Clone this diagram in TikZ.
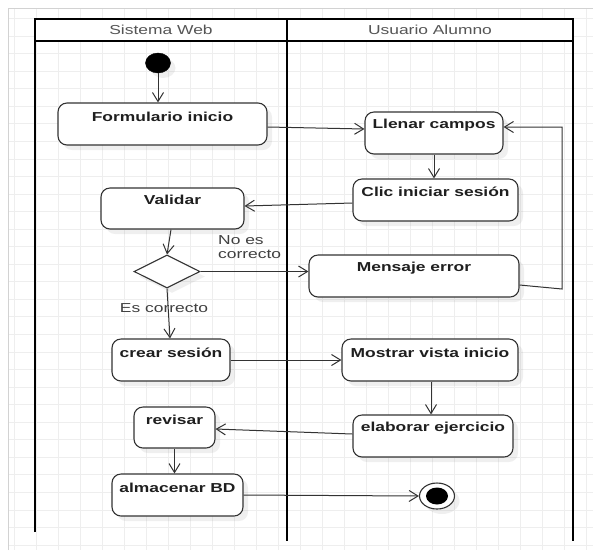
\documentclass[tikz,border=0pt]{standalone}
\usepackage{fontspec}
\setmainfont[FakeStretch=1.34]{Liberation Sans}
\usetikzlibrary{arrows.meta,shapes.geometric,shadows}

\definecolor{gridc}{HTML}{EEEEEE}
\definecolor{framec}{HTML}{D2D2D2}
\definecolor{linec}{HTML}{333333}
\definecolor{headc}{HTML}{555555}
\definecolor{labc}{HTML}{404040}

\begin{document}
\begin{tikzpicture}[x=1pt,y=-1pt,
  soft/.style={drop shadow={shadow xshift=5pt,shadow yshift=-5pt,opacity=0.12}},
  act/.style={draw=linec,line width=1.1pt,rounded corners=9pt,fill=white,
    inner sep=0pt,soft},
  acttext/.style={font=\fontsize{13}{15}\selectfont\bfseries,text=black!88,inner sep=0pt},
  headtext/.style={font=\fontsize{13}{15}\selectfont,text=headc,inner sep=0pt},
  edgetext/.style={font=\fontsize{13}{14}\selectfont,text=labc,inner sep=0pt,align=left},
  flow/.style={draw=linec,line width=1pt,-{Straight Barb[length=9pt,width=11pt,line width=1pt]}},
  lane/.style={line width=2.8pt,black}
]
\useasboundingbox (0,0) rectangle (593,550);

% background grid
\fill[white] (0,0) rectangle (593,550);
\foreach \k in {0,...,26} \draw[gridc,line width=0.8pt] ({14+22*\k},8) -- ({14+22*\k},550);
\foreach \k in {0,...,30} \draw[gridc,line width=0.8pt] (8,{18.5+17.55*\k}) -- (593,{18.5+17.55*\k});
\draw[framec,line width=0.8pt] (8,550) -- (8,8) -- (593,8);

% swimlanes
\fill[white] (35,19) rectangle (573,41);
\draw[lane] (35,532) -- (35,19) -- (573,19) -- (573,541);
\draw[lane] (35,41) -- (573,41);
\draw[lane] (287,19) -- (287,541);
\node[headtext] (h1) at (161,30) {Sistema Web};
\node[headtext] (h2) at (430,30) {Usuario Alumno};

% start and end markers
\node[ellipse,fill=black,draw=black,minimum width=25pt,minimum height=20pt,inner sep=0pt,soft] (start) at (158,63) {};
\node[ellipse,fill=white,draw=linec,line width=1.1pt,minimum width=35pt,minimum height=26pt,inner sep=0pt,soft] (end) at (437,496) {};
\node[ellipse,fill=black,minimum width=22pt,minimum height=17pt,inner sep=0pt] (endin) at (end.center) {};

% activities
\node[act,minimum width=209pt,minimum height=42pt] (fi) at (162.5,124) {};
\node[acttext] (fit) at (162.5,117) {Formulario inicio};
\node[act,minimum width=138pt,minimum height=42pt] (lc) at (434,133) {};
\node[acttext] (lct) at (434,125) {Llenar campos};
\node[act,minimum width=165pt,minimum height=42pt] (ci) at (435.5,200) {};
\node[acttext] (cit) at (435.5,192) {Clic iniciar sesión};
\node[act,minimum width=143pt,minimum height=41pt] (va) at (172.5,208.5) {};
\node[acttext] (vat) at (172.5,200) {Validar};
\node[diamond,aspect=2,draw=linec,line width=1.1pt,fill=white,inner sep=0pt,
  minimum width=66pt,minimum height=33pt,soft] (dm) at (167,271.5) {};
\node[act,minimum width=210pt,minimum height=42pt] (me) at (414,276) {};
\node[acttext] (met) at (414,268) {Mensaje error};
\node[act,minimum width=118pt,minimum height=42pt] (cs) at (171,360) {};
\node[acttext] (cst) at (171,353) {crear sesión};
\node[act,minimum width=176pt,minimum height=42pt] (mv) at (430,360) {};
\node[acttext] (mvt) at (430,353) {Mostrar vista inicio};
\node[act,minimum width=160pt,minimum height=42pt] (ee) at (433,436) {};
\node[acttext] (eet) at (433,428) {elaborar ejercicio};
\node[act,minimum width=81pt,minimum height=41pt] (rv) at (174.5,427.5) {};
\node[acttext] (rvt) at (174.5,420) {revisar};
\node[act,minimum width=131pt,minimum height=42pt] (ab) at (177.5,495) {};
\node[acttext] (abt) at (177.5,488) {almacenar BD};

% control flow
\draw[flow] (start) -- (start |- fi.north);
\draw[flow] (fi.east |- 0,127) -- (lc.west |- 0,129);
\draw[flow] (lc.south) -- (lc.south |- ci.north);
\draw[flow] (ci.west |- 0,203) -- (va.east |- 0,206);
\draw[flow] (va.south -| 171,0) -- (dm.north);
\draw[flow] (dm.east) -- (me.west |- dm.east);
\node[edgetext,anchor=west] (no) at (218,247) {No es\\correcto};
\draw[flow] (me.east |- 0,285) -- (562,289) -- (562,127) -- (lc.east |- 0,127);
\draw[flow] (dm.south) -- (cs.north -| 170,0);
\node[edgetext] (yes) at (164,308) {Es correcto};
\draw[flow] (cs.east) -- (mv.west);
\draw[flow] (mv.south -| 431,0) -- (ee.north -| 431,0);
\draw[flow] (ee.west |- 0,434) -- (rv.east |- 0,429);
\draw[flow] (rv.south) -- (ab.north -| rv.south);
\draw[flow] (ab.east) -- (end.west);
\end{tikzpicture}
\end{document}
